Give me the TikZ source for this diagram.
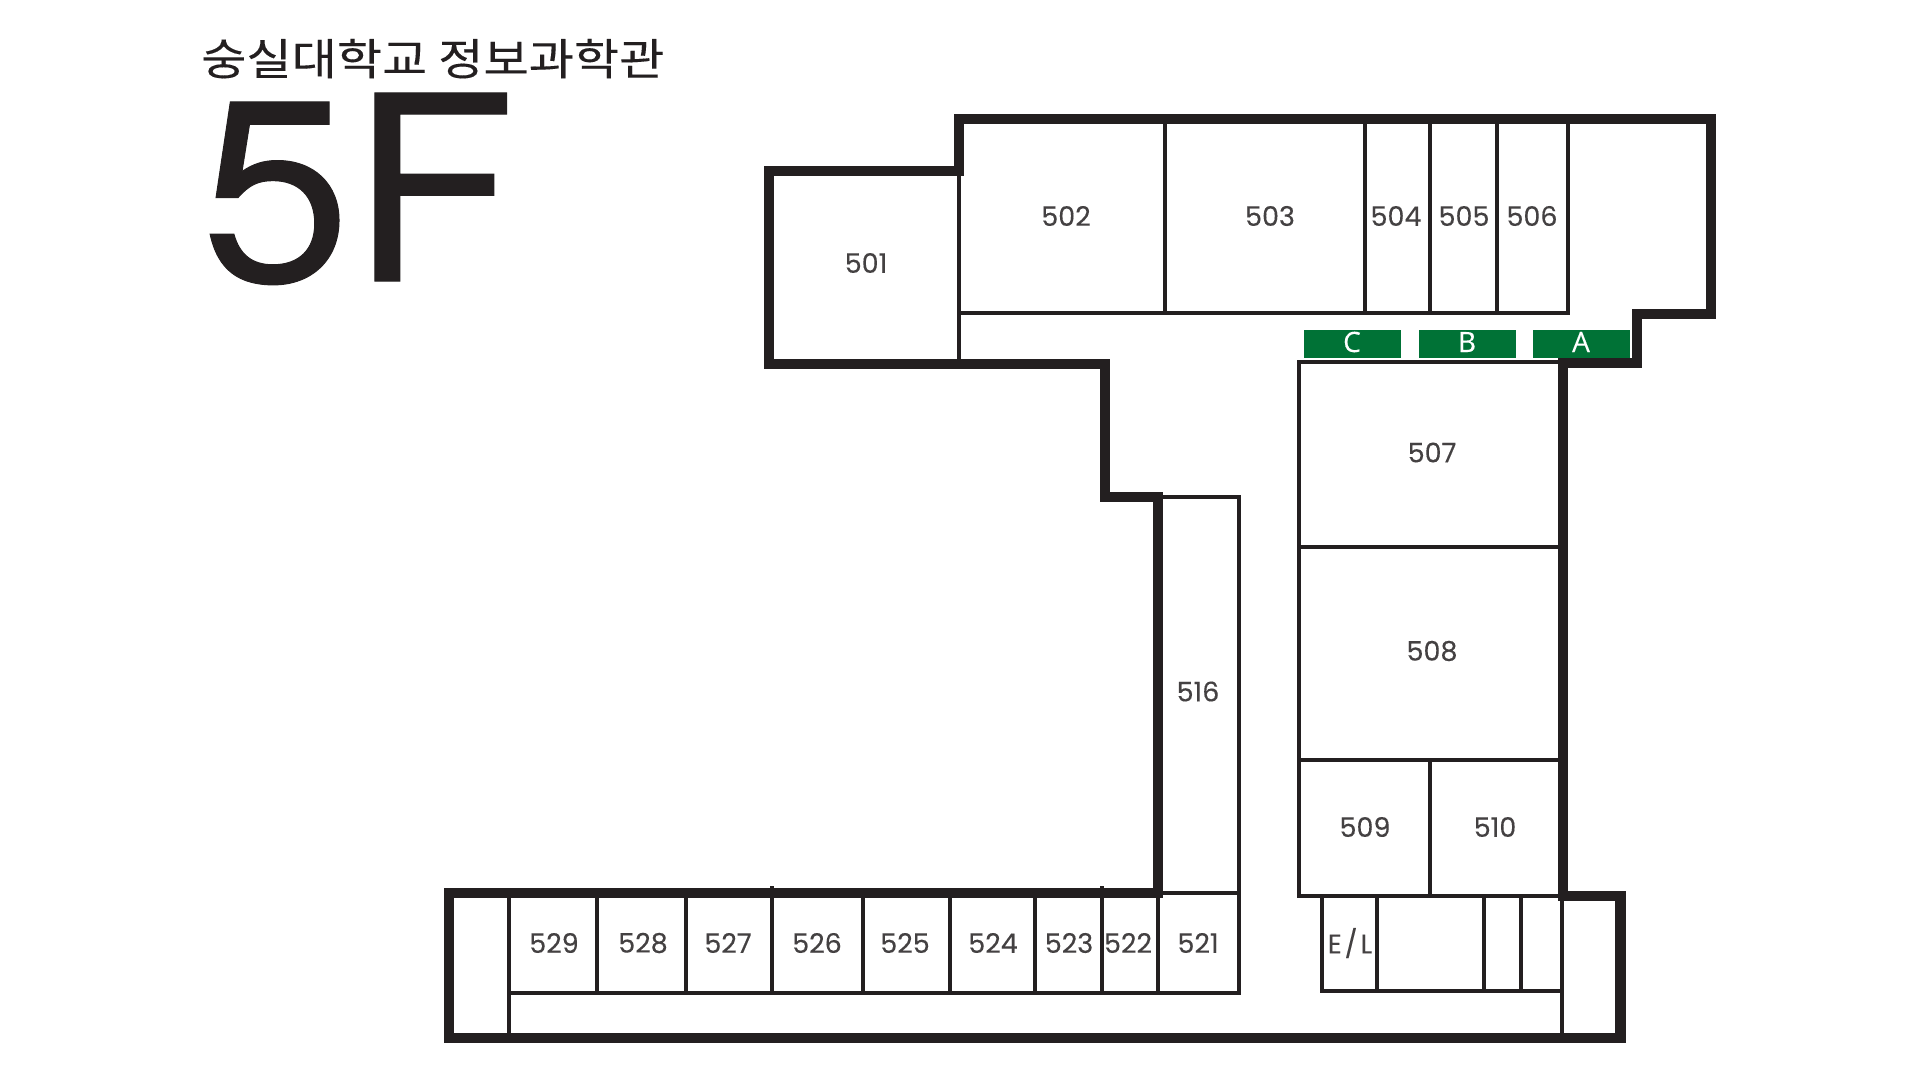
\documentclass[tikz,border=0pt]{standalone}
\usepackage{fontspec}
\setmainfont[FakeBold=0.25]{Poppins}
\newfontfamily\titlefont[FakeStretch=1.045,FakeBold=0.4]{TeX Gyre Heros}
\newfontfamily\krfont[FakeStretch=1.13,FakeBold=0.15]{Noto Sans CJK KR}
\newfontfamily\signfont[FakeBold=0.25]{Open Sans}
\definecolor{wall}{HTML}{231F20}
\definecolor{sign}{HTML}{007236}
\tikzset{every node/.style={inner sep=0pt,text=wall!85}}
\tikzset{room/.style={font=\fontsize{27}{27}\selectfont}}
\tikzset{sign/.style={fill=sign,text=white,minimum width=97pt,minimum height=28pt,text height=20pt,text depth=4pt,font=\signfont\fontsize{28}{28}\selectfont}}
\tikzset{outer/.style={draw=wall,line width=10.5pt}}
\tikzset{thin/.style={draw=wall,line width=3.4pt}}

\begin{document}
\begin{tikzpicture}[x=1pt,y=-1pt]
      \useasboundingbox (0,0) rectangle (1920,1080);
      \node[anchor=base west,text=wall,font=\krfont\fontsize{43.5}{43.5}\selectfont] (title) at (201,75) {숭실대학교 정보과학관};
      \node[anchor=base west,text=wall,font=\titlefont\fontsize{258}{258}\selectfont] (floor) at (200.5,281) {5F};
      % top wing
      \draw[thin] (959,171) -- (959,364);
      \draw[thin] (959,313) -- (1570,313);
      \foreach \x in {1165,1365,1430,1497,1568}
        \draw[thin] (\x,119) -- (\x,313);
      % right block
      \draw[thin] (1299,547) -- (1563,547);
      \draw[thin] (1299,760) -- (1563,760);
      \draw[thin] (1430,760) -- (1430,896);
      \draw[thin] (1563,362) -- (1299,362) -- (1299,896) -- (1563,896);
      % 516 and bottom row
      \draw[thin] (1158,497) -- (1239,497) -- (1239,993) -- (509,993);
      \draw[thin] (1158,893) -- (1239,893);
      \draw[thin] (509,893) -- (509,1038);
      \foreach \x in {597,686,863,950,1035,1158}
        \draw[thin] (\x,893) -- (\x,993);
      \foreach \x in {772,1102}
        \draw[thin] (\x,886) -- (\x,993);
      % stairs and lift
      \draw[thin] (1322,896) -- (1322,991) -- (1562,991);
      \draw[thin,line width=4.5pt] (1377,896) -- (1377,991);
      \foreach \x in {1484,1521}
        \draw[thin] (\x,896) -- (\x,991);
      \draw[thin] (1562,896) -- (1562,1038);
      % outside walls
      \draw[outer] (959,119) -- (1711,119) -- (1711,314) -- (1637,314) -- (1637,363)
        -- (1563,363) -- (1563,896) -- (1620.5,896) -- (1620.5,1038) -- (449,1038) -- (449,893)
        -- (1158,893) -- (1158,497) -- (1105,497) -- (1105,364) -- (769,364) -- (769,171)
        -- (959,171) -- cycle;
      \foreach \n/\x/\y in {C/1352/344,B/1467/344,A/1581/344}
        \node[sign] (sign\n) at (\x,\y) {\n};
      \foreach \n/\x/\y in {501/866/263,502/1066/216,503/1270/216,504/1396/216,505/1464/216,506/1532/216,
        507/1432/452.5,508/1432/651,509/1365/827,510/1495/827,516/1198/691.5,
        521/1198/943,522/1128/943,523/1069/943,524/993/943,525/905/943,526/817/943,527/728/943,528/643/943,529/554/943}
        \node[room] (R\n) at (\x,\y) {\n};
      \node[room] (EL) at (1350,943) {E\kern3pt/\kern3pt L};
\end{tikzpicture}
\end{document}
